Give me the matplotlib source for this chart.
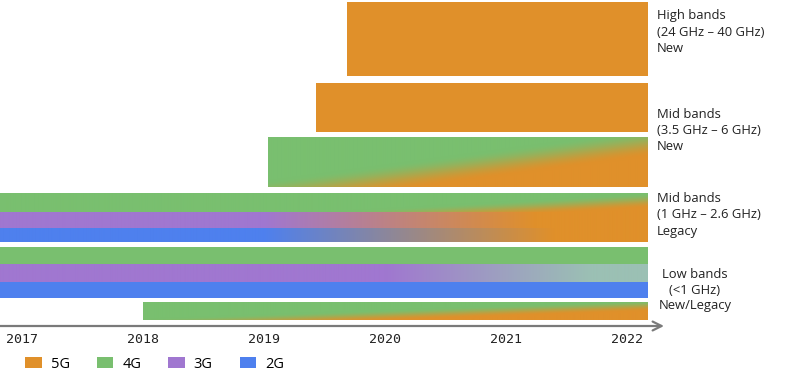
import numpy as np
import matplotlib
matplotlib.use('Agg')
import matplotlib.pyplot as plt
from matplotlib.patches import Patch
from matplotlib.colors import to_rgb

# ------------------ DATA ------------------
years = [2017, 2018, 2019, 2020, 2021, 2022]
techs = ['5G', '4G', '3G', '2G']
tech_colors = {'5G': '#E0902A', '4G': '#79BF6F', '3G': '#A077D0', '2G': '#4E80EE'}

band_labels = [
    'High bands\n(24 GHz – 40 GHz)\nNew',
    'Mid bands\n(3.5 GHz – 6 GHz)\nNew',
    'Mid bands\n(1 GHz – 2.6 GHz)\nLegacy',
    'Low bands\n(<1 GHz)\nNew/Legacy',
]

# each strip: tech at start, tech it fades into, start year, end year
strip_from = ['5G', '5G', '4G', '4G', '3G', '2G', '4G', '3G', '2G', '4G']
strip_to = ['5G', '5G', '5G', '5G', '5G', '5G', '4G', 'light', '2G', '5G']
strip_start = [2019.69, 2019.43, 2019.03, 2016.8, 2016.8, 2016.8, 2016.8, 2016.8, 2016.8, 2018.0]
strip_end = [2022.17] * 10
# fade: 'diag' = sloped front, 'h' = horizontal fade between two years
strip_fade = [None, None, 'diag', 'diag', 'h', 'h', None, 'h', None, 'diag']
fade_years = [None, None, (2019.03, 2022.17), (2019.0, 2022.17), (2019.0, 2021.25),
              (2019.0, 2021.4), None, (2020.0, 2021.7), None, (2018.0, 2022.17)]
# ------------------------------------------

light_teal = '#9BC0B4'

# layout in pixel rows (top, bottom) for each strip
strip_rows = [(2, 76), (83, 132), (137, 187), (193, 212), (212, 228), (228, 242),
              (247, 264), (264, 282), (282, 298), (302, 320)]
# slope of the fade front (v at left, v at right) and softness
diag_params = {2: (1.15, 0.12, 0.55), 3: (1.6, 0.4, 0.8), 9: (1.25, 0.2, 0.6)}

W, H = 786, 383
fig = plt.figure(figsize=(W / 100, H / 100), dpi=100)
axis_y = 326
ax = fig.add_axes([0, 1 - axis_y / H, 1, axis_y / H])

px_per_year = 121
x_left = 2017 - 22 / px_per_year
x_right = 2017 + (W - 22) / px_per_year


def color_of(name):
    return np.array(to_rgb(light_teal if name == 'light' else tech_colors[name]))


for i in range(len(strip_from)):
    top, bot = strip_rows[i]
    x0, x1 = strip_start[i], strip_end[i]
    c0, c1 = color_of(strip_from[i]), color_of(strip_to[i])
    if strip_fade[i] is None:
        ax.barh((top + bot) / 2, x1 - x0, left=x0, height=bot - top,
                color=c0, linewidth=0)
        continue
    nx = 400
    ny = max(int(bot - top), 2) * 2
    xs = np.linspace(x0, x1, nx)
    vs = np.linspace(0, 1, ny)[:, None]
    f0, f1 = fade_years[i]
    u = np.clip((xs - f0) / (f1 - f0), 0, 1)[None, :]
    if strip_fade[i] == 'diag':
        a, b, w = diag_params[i]
        front = a + (b - a) * u
        t = np.clip((vs - front) / w + 0.5, 0, 1)
        t = np.where(xs[None, :] < f0, 0, t)
        t = t * t * (3 - 2 * t)
    else:
        t = np.repeat(u, ny, axis=0)
    img = c0[None, None, :] * (1 - t[..., None]) + c1[None, None, :] * t[..., None]
    ax.imshow(img, extent=(x0, x1, bot, top), aspect='auto',
              interpolation='bilinear', origin='upper')

ax.set_xlim(x_left, x_right)
ax.set_ylim(axis_y, 0)

# axis with arrow
ax.annotate('', xy=(2017 + (664 - 22) / px_per_year, axis_y), xytext=(x_left, axis_y),
            arrowprops=dict(arrowstyle='->', color='#7A7A7A', lw=1.6,
                            shrinkA=0, shrinkB=0, mutation_scale=16),
            annotation_clip=False)

for s in ax.spines.values():
    s.set_visible(False)
ax.set_yticks([])
ax.set_xticks(years)
ax.set_xticklabels([str(y) for y in years], fontfamily='DejaVu Sans Mono',
                   fontsize=9.5, color='#222222')
ax.tick_params(axis='x', length=0, pad=5)

# band labels on the right
label_x = 2017 + (657 - 22) / px_per_year
label_y = [32, 130, 215]
for lab, y in zip(band_labels[:3], label_y):
    ax.text(label_x, y, lab, fontfamily='Open Sans', fontsize=9.4, color='#222222',
            ha='left', va='center', linespacing=1.3, clip_on=False)
ax.text(2017 + (695 - 22) / px_per_year, 290, band_labels[3], fontfamily='Open Sans',
        fontsize=9.4, color='#222222', ha='center', va='center',
        multialignment='center', linespacing=1.3, clip_on=False)

handles = [Patch(facecolor=tech_colors[t], edgecolor='none') for t in techs]
fig.legend(handles, techs, ncol=4, loc='center left',
           bbox_to_anchor=(25 / W, 1 - 364 / H), frameon=False,
           prop={'family': 'Open Sans', 'size': 10.5},
           handlelength=1.15, handleheight=0.85, handletextpad=0.6,
           columnspacing=1.85, borderpad=0, borderaxespad=0)

fig.savefig('out.png', dpi=100, facecolor='white')
